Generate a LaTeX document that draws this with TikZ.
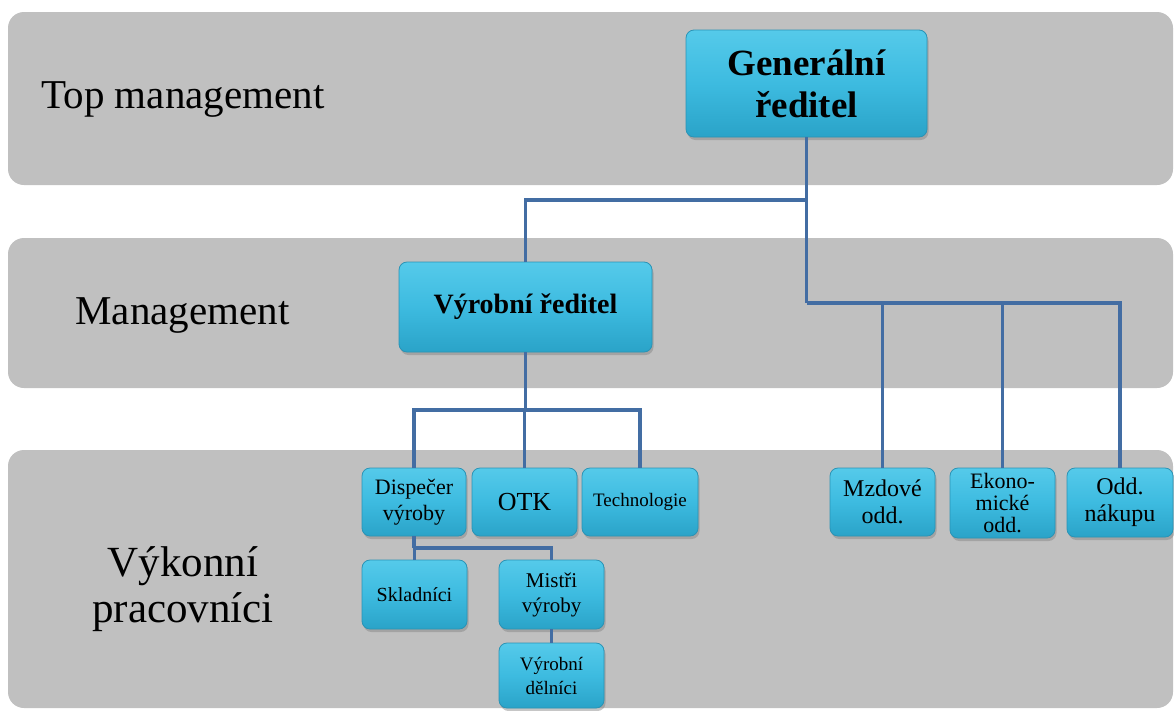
\documentclass[tikz,border=0pt]{standalone}
\usepackage{fontspec}
\setmainfont{Liberation Serif}
\usetikzlibrary{shadows}
\definecolor{band}{HTML}{C0C0C0}
\definecolor{boxtop}{HTML}{55CAEA}
\definecolor{boxmid}{HTML}{3DBBE0}
\definecolor{boxbot}{HTML}{2AA3C8}
\definecolor{boxedge}{HTML}{2A93B5}
\definecolor{conn}{HTML}{436DA3}
\tikzset{
  bandbox/.style={fill=band, draw=none, rounded corners=16pt},
  bandlabel/.style={font=\fontsize{41}{44}\selectfont, align=center, text=black},
  orgbox/.style={draw=boxedge, line width=0.8pt, rounded corners=8pt,
    top color=boxtop, bottom color=boxbot, middle color=boxmid,
    drop shadow={opacity=0.45, shadow xshift=1.5pt, shadow yshift=-3pt},
    align=center, inner sep=2pt, text=black},
  link/.style={draw=conn, line width=3.2pt}
}
\begin{document}
\begin{tikzpicture}[x=1pt,y=-1pt]
\useasboundingbox (0,0) rectangle (1174,710);
\fill[white] (0,0) rectangle (1174,710);
% bands
\path[bandbox] (8,12) rectangle (1173,185);
\path[bandbox] (8,238) rectangle (1173,388);
\path[bandbox] (8,450) rectangle (1173,708);
\node[bandlabel, anchor=west] (lt) at (38,99) {Top management};
\node[bandlabel, anchor=west] (lm) at (72,315) {Management};
\node[bandlabel, font=\fontsize{43}{46}\selectfont] (lv) at (183,589) {Výkonní\\pracovníci};
% boxes
\node[orgbox, minimum width=241pt, minimum height=107pt, font=\fontsize{37}{42}\selectfont\bfseries] (gen) at (806.5,83.5) {Generální\\ředitel};
\node[orgbox, minimum width=253pt, minimum height=90pt, font=\fontsize{28}{32}\selectfont\bfseries] (vyr) at (525.5,307) {Výrobní ředitel};
\node[orgbox, minimum width=104pt, minimum height=68pt, font=\fontsize{22}{26}\selectfont] (disp) at (414,502) {Dispečer\\výroby};
\node[orgbox, minimum width=105pt, minimum height=68pt, font=\fontsize{26}{30}\selectfont] (otk) at (524.5,502) {OTK};
\node[orgbox, minimum width=116pt, minimum height=68pt, font=\fontsize{19}{22}\selectfont] (tech) at (640,502) {Technologie};
\node[orgbox, minimum width=105pt, minimum height=69pt, font=\fontsize{20}{24}\selectfont] (skl) at (414.5,594.5) {Skladníci};
\node[orgbox, minimum width=105pt, minimum height=69pt, font=\fontsize{21}{25}\selectfont] (mist) at (551.5,594.5) {Mistři\\výroby};
\node[orgbox, minimum width=105pt, minimum height=65pt, font=\fontsize{19}{24}\selectfont] (deln) at (551.5,675.5) {Výrobní\\dělníci};
\node[orgbox, minimum width=105pt, minimum height=68pt, font=\fontsize{24}{27}\selectfont] (mzd) at (882.5,502) {Mzdové\\odd.};
\node[orgbox, minimum width=105pt, minimum height=70pt, font=\fontsize{22}{22}\selectfont] (eko) at (1002.5,503) {Ekono-\\mické\\odd.};
\node[orgbox, minimum width=106pt, minimum height=69pt, font=\fontsize{24}{27}\selectfont] (nak) at (1120,502.5) {Odd.\\nákupu};
% connectors
\coordinate (j1) at (gen.south |- 0,200);
\coordinate (bus1) at (gen.south |- 0,303);
\coordinate (bus2) at (vyr.south |- 0,410);
\coordinate (bus3) at (disp.south |- 0,548);
\draw[link] (gen.south) -- (bus1);
\draw[link] (j1) -| (vyr.north);
\draw[link] (bus1) -| (mzd.north);
\draw[link] (bus1) -| (eko.north);
\draw[link] (bus1) -| (nak.north);
\draw[link] (vyr.south) -- (bus2);
\draw[link] (bus2) -| (disp.north);
\draw[link] (bus2) -| (otk.north);
\draw[link] (bus2) -| (tech.north);
\draw[link] (disp.south) -- (bus3);
\draw[link] (bus3) -| (skl.north);
\draw[link] (bus3) -| (mist.north);
\draw[link] (mist.south) -- (deln.north);
\end{tikzpicture}
\end{document}
